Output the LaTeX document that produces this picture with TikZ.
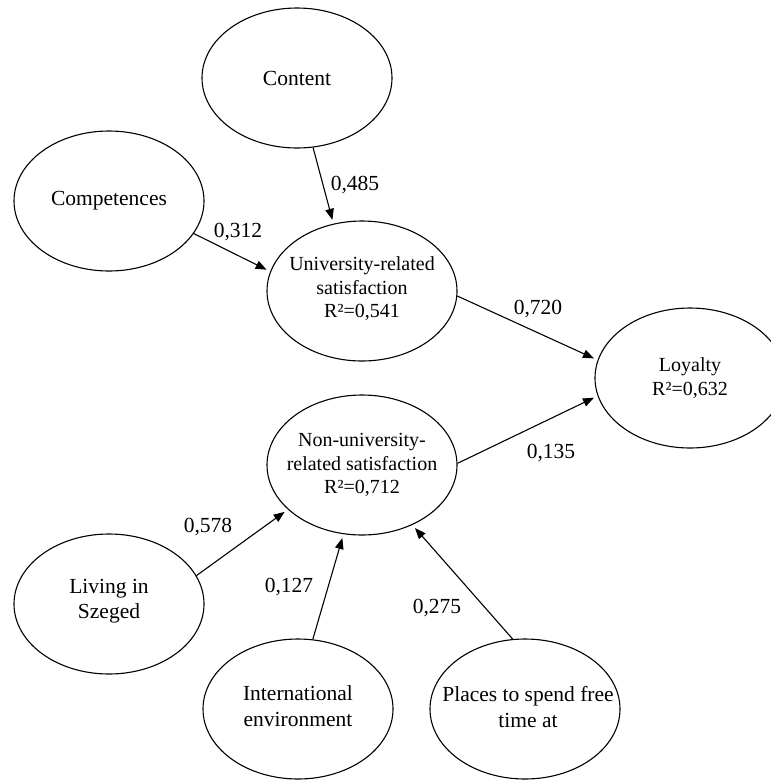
\documentclass[tikz,border=0pt]{standalone}
\usepackage{fontspec}
\setmainfont{Liberation Serif}
\usetikzlibrary{shapes.geometric,arrows.meta}
\begin{document}
\begin{tikzpicture}[x=1pt,y=-1pt,
  latent/.style={ellipse,draw,line width=1.1pt,minimum width=190pt,minimum height=140pt,inner sep=0pt},
  bigtxt/.style={font=\fontsize{21.5}{25.5}\selectfont,align=center,inner sep=0pt},
  smalltxt/.style={font=\fontsize{20}{23.5}\selectfont,align=center,inner sep=0pt},
  conn/.style={line width=1.1pt,-{Triangle[length=11pt,width=8.5pt]},shorten >=4pt},
  coef/.style={font=\fontsize{21.5}{25}\selectfont,inner sep=0pt}]
\useasboundingbox (0,0) rectangle (771,780);
% ellipses
\node[latent] (content) at (297,78) {};
\node[latent] (comp) at (109,201) {};
\node[latent] (univ) at (362,291) {};
\node[latent] (loyal) at (690,378) {};
\node[latent] (nonuniv) at (362,465) {};
\node[latent] (living) at (109,604) {};
\node[latent] (intl) at (298,709) {};
\node[latent] (places) at (525,709) {};
% texts
\node[bigtxt] (tcontent) at (content) {Content};
\node[bigtxt] (tcomp) at (comp) {Competences};
\node[smalltxt] (tuniv) at ([yshift=2pt]univ.center) {University-related\\satisfaction\\R²=0,541};
\node[smalltxt] (tloyal) at (loyal) {Loyalty\\R²=0,632};
\node[smalltxt] (tnonuniv) at (nonuniv) {Non-university-\\related satisfaction\\R²=0,712};
\node[bigtxt] (tliving) at ([yshift=3pt]living.center) {Living in\\Szeged};
\node[bigtxt] (tintl) at ([yshift=3pt]intl.center) {International\\environment};
\node[bigtxt] (tplaces) at ([xshift=3pt,yshift=2pt]places.center) {Places to spend free\\time at};
% connectors
\draw[conn] (content.-77.3) -- (univ.113);
\draw[conn] (comp.-21.3) -- (univ.168);
\draw[conn] (univ.-3) -- (loyal.169.4);
\draw[conn] (nonuniv.1.8) -- (loyal.191.2);
\draw[conn] (living.18.4) -- (nonuniv.211.3);
\draw[conn] (intl.78.7) -- (nonuniv.255);
\draw[conn] (places.100.5) -- (nonuniv.-50.4);
% coefficients
\node[coef] (c485) at (355,185) {0,485};
\node[coef] (c312) at (238,232) {0,312};
\node[coef] (c720) at (538,309) {0,720};
\node[coef] (c135) at (551,453) {0,135};
\node[coef] (c578) at (208,527) {0,578};
\node[coef] (c127) at (289,587) {0,127};
\node[coef] (c275) at (437,608) {0,275};
\end{tikzpicture}
\end{document}
